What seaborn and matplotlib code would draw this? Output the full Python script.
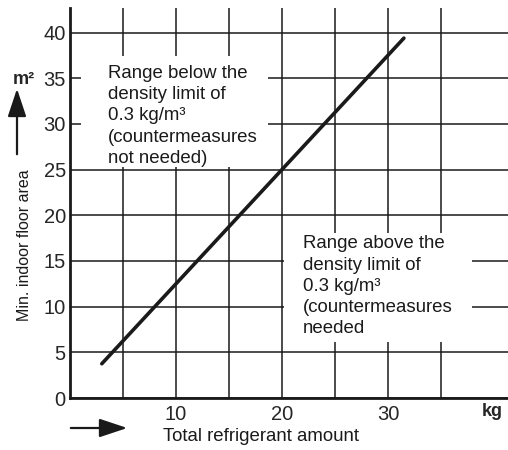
import matplotlib
matplotlib.use("Agg")
import matplotlib.pyplot as plt
import seaborn as sns
import pandas as pd
from matplotlib.patches import Rectangle, FancyArrowPatch

# données : quantité de réfrigérant (kg) -> surface min. (m²)
refrigerant_kg = [3.0, 31.5]
floor_area_m2 = [3.75, 39.4]

x_major = [10, 20, 30]
x_minor = [5, 15, 25, 35]
y_ticks = [0, 5, 10, 15, 20, 25, 30, 35, 40]

txt_below = "Range below the\ndensity limit of\n0.3 kg/m³\n(countermeasures\nnot needed)"
txt_above = "Range above the\ndensity limit of\n0.3 kg/m³\n(countermeasures\nneeded"

df = pd.DataFrame({"kg": refrigerant_kg, "area": floor_area_m2})

sns.set_style("white")
plt.rcParams["font.family"] = ["Liberation Sans", "DejaVu Sans"]

fig = plt.figure(figsize=(5.08, 4.5), dpi=100)
ax = fig.add_axes([70 / 508, 52 / 450, 438 / 508, 390 / 450])

sns.lineplot(data=df, x="kg", y="area", ax=ax, color="#1a1a1a", linewidth=2.6, zorder=3)

ax.set_xlim(0, 438 / 10.6)
ax.set_ylim(0, 42.7)
ax.set_xticks(x_major)
ax.set_xticks(x_minor, minor=True)
ax.set_yticks(y_ticks)
ax.set_axisbelow(True)
ax.grid(True, which="both", color="#1a1a1a", linewidth=1.1)
ax.tick_params(which="both", length=0, labelsize=14.5)
ax.tick_params(axis="y", pad=3)
ax.tick_params(axis="x", pad=5)

for side in ["top", "right"]:
    ax.spines[side].set_visible(False)
for side in ["left", "bottom"]:
    ax.spines[side].set_color("#1a1a1a")
    ax.spines[side].set_linewidth(2.0)

# zones blanches derrière les textes
ax.add_patch(Rectangle((1.0, 25.3), 17.7, 12.1, facecolor="white", edgecolor="none", zorder=1))
ax.add_patch(Rectangle((20.15, 6.1), 17.75, 12.0, facecolor="white", edgecolor="none", zorder=1))

ax.text(3.6, 36.45, txt_below, va="top", ha="left", fontsize=13.4, linespacing=1.32,
        color="#1a1a1a", zorder=4)
ax.text(22.0, 17.8, txt_above, va="top", ha="left", fontsize=13.4, linespacing=1.32,
        color="#1a1a1a", zorder=4)

ax.set_xlabel("Total refrigerant amount", fontsize=13.4, color="#1a1a1a")
ax.set_ylabel("Min. indoor floor area", fontsize=11.5, color="#1a1a1a")
ax.xaxis.set_label_coords(0.436, -0.077)
ax.yaxis.set_label_coords(-0.087, 0.392)

fig.text(24 / 508, 1 - 80 / 450, "m²", ha="center", va="center", fontsize=13, weight="bold")
fig.text(492 / 508, 1 - 411 / 450, "kg", ha="center", va="center", fontsize=13, weight="bold")

arrow = dict(arrowstyle="-|>,head_length=0.9,head_width=0.3", color="#1a1a1a", lw=1.6, mutation_scale=19)
fig.add_artist(FancyArrowPatch((17 / 508, 1 - 157 / 450), (17 / 508, 1 - 86 / 450),
                               transform=fig.transFigure, **arrow))
fig.add_artist(FancyArrowPatch((68 / 508, 1 - 428 / 450), (130 / 508, 1 - 428 / 450),
                               transform=fig.transFigure, **arrow))

fig.savefig("out.png", dpi=100)
